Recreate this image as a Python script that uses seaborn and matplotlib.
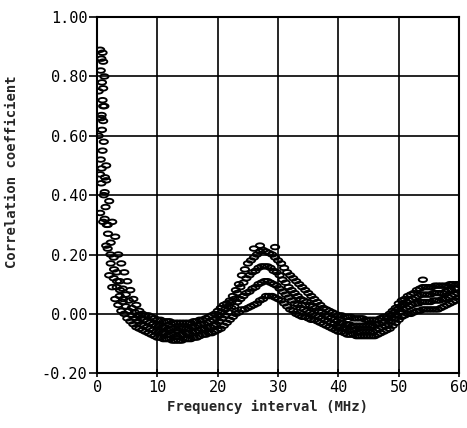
import numpy as np
import pandas as pd
import matplotlib
matplotlib.use("Agg")
import matplotlib.pyplot as plt
from matplotlib.path import Path
import seaborn as sns

sns.set_theme(style="ticks")
plt.rcParams['font.family'] = ['DejaVu Sans Mono', 'DejaVu Sans']

# frequency interval grids (MHz): outer rows every 0.5 MHz, inner rows staggered
freq = np.arange(0.5, 60.01, 0.5)
freq_mid = np.arange(0.25, 59.76, 0.5)

corr_lo = [0.47, 0.31, 0.23, 0.13, 0.09, 0.05, 0.03, 0.01, 0.00, -0.015,
           -0.025, -0.035, -0.045, -0.05, -0.055, -0.06, -0.065, -0.07, -0.075, -0.08,
           -0.08, -0.085, -0.085, -0.085, -0.09, -0.09, -0.09, -0.09, -0.085, -0.085,
           -0.085, -0.08, -0.08, -0.075, -0.07, -0.07, -0.065, -0.065, -0.06, -0.055,
           -0.05, -0.04, -0.03, -0.02, -0.01, 0.0, 0.005, 0.015, 0.015, 0.02,
           0.025, 0.03, 0.035, 0.045, 0.05, 0.06, 0.06, 0.06, 0.055, 0.05,
           0.045, 0.035, 0.025, 0.015, 0.01, 0.0, -0.005, -0.01, -0.01, -0.015,
           -0.02, -0.02, -0.025, -0.03, -0.035, -0.04, -0.045, -0.05, -0.055, -0.06,
           -0.06, -0.065, -0.07, -0.07, -0.07, -0.075, -0.075, -0.075, -0.075, -0.075,
           -0.075, -0.075, -0.07, -0.065, -0.06, -0.055, -0.05, -0.04, -0.03, -0.02,
           -0.01, -0.005, 0.0, 0.0, 0.005, 0.01, 0.01, 0.015, 0.015, 0.015,
           0.015, 0.015, 0.015, 0.02, 0.025, 0.03, 0.035, 0.04, 0.045, 0.055]

corr_m1 = [0.60, 0.49, 0.32, 0.22, 0.17, 0.12, 0.09, 0.06, 0.04, 0.025,
           0.01, -0.005, -0.015, -0.025, -0.035, -0.04, -0.045, -0.05, -0.055, -0.06,
           -0.06, -0.065, -0.065, -0.07, -0.07, -0.07, -0.075, -0.07, -0.07, -0.065,
           -0.065, -0.06, -0.06, -0.055, -0.05, -0.05, -0.045, -0.045, -0.04, -0.035,
           -0.025, -0.015, -0.005, 0.005, 0.02, 0.025, 0.04, 0.05, 0.06, 0.07,
           0.075, 0.085, 0.09, 0.10, 0.105, 0.11, 0.11, 0.105, 0.10, 0.095,
           0.085, 0.075, 0.065, 0.055, 0.045, 0.035, 0.03, 0.02, 0.015, 0.01,
           0.005, 0.0, -0.005, -0.01, -0.015, -0.02, -0.025, -0.03, -0.035, -0.045,
           -0.045, -0.05, -0.05, -0.055, -0.055, -0.055, -0.06, -0.06, -0.06, -0.06,
           -0.06, -0.06, -0.055, -0.05, -0.045, -0.04, -0.035, -0.025, -0.015, -0.005,
           0.005, 0.015, 0.02, 0.025, 0.03, 0.035, 0.035, 0.04, 0.04, 0.04,
           0.04, 0.045, 0.045, 0.045, 0.05, 0.05, 0.055, 0.06, 0.065, 0.07]

corr_m2 = [0.75, 0.67, 0.41, 0.30, 0.24, 0.19, 0.14, 0.11, 0.085, 0.065,
           0.045, 0.02, 0.005, -0.005, -0.015, -0.02, -0.025, -0.03, -0.035, -0.04,
           -0.04, -0.045, -0.045, -0.05, -0.05, -0.05, -0.055, -0.05, -0.05, -0.05,
           -0.05, -0.045, -0.045, -0.04, -0.035, -0.035, -0.03, -0.025, -0.02, -0.015,
           -0.005, 0.005, 0.015, 0.025, 0.04, 0.05, 0.07, 0.09, 0.105, 0.12,
           0.13, 0.14, 0.145, 0.155, 0.16, 0.16, 0.16, 0.155, 0.145, 0.14,
           0.13, 0.115, 0.105, 0.09, 0.08, 0.07, 0.06, 0.05, 0.045, 0.04,
           0.03, 0.025, 0.02, 0.01, 0.005, -0.005, -0.01, -0.015, -0.02, -0.025,
           -0.03, -0.03, -0.035, -0.035, -0.04, -0.04, -0.04, -0.04, -0.04, -0.04,
           -0.04, -0.04, -0.035, -0.035, -0.03, -0.025, -0.015, -0.005, 0.005, 0.015,
           0.025, 0.03, 0.04, 0.045, 0.05, 0.055, 0.06, 0.065, 0.065, 0.065,
           0.065, 0.07, 0.07, 0.07, 0.07, 0.075, 0.08, 0.08, 0.085, 0.085]

corr_hi = [0.89, 0.85, 0.50, 0.38, 0.31, 0.26, 0.20, 0.17, 0.14, 0.11,
           0.08, 0.05, 0.03, 0.01, 0.0, -0.005, -0.005, -0.01, -0.015, -0.02,
           -0.02, -0.025, -0.025, -0.025, -0.03, -0.03, -0.03, -0.03, -0.03, -0.03,
           -0.03, -0.025, -0.025, -0.02, -0.02, -0.015, -0.01, -0.005, 0.0, 0.01,
           0.02, 0.03, 0.035, 0.045, 0.06, 0.08, 0.10, 0.13, 0.15, 0.17,
           0.18, 0.19, 0.20, 0.21, 0.215, 0.21, 0.205, 0.20, 0.19, 0.18,
           0.17, 0.155, 0.14, 0.13, 0.12, 0.11, 0.10, 0.09, 0.08, 0.07,
           0.06, 0.05, 0.04, 0.03, 0.02, 0.015, 0.01, 0.005, 0.0, -0.005,
           -0.005, -0.01, -0.01, -0.01, -0.015, -0.015, -0.015, -0.015, -0.02, -0.02,
           -0.02, -0.02, -0.02, -0.015, -0.01, -0.01, 0.0, 0.01, 0.02, 0.035,
           0.045, 0.05, 0.06, 0.065, 0.07, 0.08, 0.085, 0.09, 0.09, 0.09,
           0.09, 0.095, 0.095, 0.095, 0.095, 0.095, 0.1, 0.1, 0.1, 0.1]

# extra points in the steep drop near zero and a few stray dots
extra_freq = [0.6, 0.7, 0.8, 0.9, 1.0, 1.1, 1.2, 1.3, 0.6, 0.8,
              1.0, 1.2, 0.5, 0.7, 0.9, 1.1, 1.4, 1.6, 1.8, 0.9,
              1.0, 0.7, 1.5, 2.2, 2.8, 3.3, 3.8, 4.3,
              26.0, 27.0, 29.5, 54.0]
extra_corr = [0.82, 0.86, 0.78, 0.72, 0.65, 0.58, 0.70, 0.46, 0.52, 0.62,
              0.76, 0.80, 0.34, 0.44, 0.55, 0.40, 0.36, 0.30, 0.27, 0.88,
              0.70, 0.66, 0.45, 0.20, 0.15, 0.11, 0.08, 0.05,
              0.22, 0.23, 0.225, 0.115]

x_ticks = [0, 10, 20, 30, 40, 50, 60]
y_ticks = [-0.2, 0.0, 0.2, 0.4, 0.6, 0.8, 1.0]

frames = [pd.DataFrame({'freq': freq, 'corr': corr_lo}),
          pd.DataFrame({'freq': freq_mid, 'corr': corr_m1}),
          pd.DataFrame({'freq': freq_mid, 'corr': corr_m2}),
          pd.DataFrame({'freq': freq, 'corr': corr_hi}),
          pd.DataFrame({'freq': extra_freq, 'corr': extra_corr})]
df = pd.concat(frames, ignore_index=True)

# flat open ellipse marker like the plotter's small "o"
t = np.linspace(0, 2 * np.pi, 25)
ellipse = Path(np.column_stack([np.cos(t), 0.55 * np.sin(t)]), closed=True)

fig = plt.figure(figsize=(4.67, 4.28), dpi=100)
ax = fig.add_axes([0.208, 0.128, 0.775, 0.832])

sns.scatterplot(data=df, x='freq', y='corr', ax=ax, marker=ellipse, s=36,
                facecolor='none', edgecolor='black', linewidth=1.35,
                legend=False)

ax.set_xlim(0, 60)
ax.set_ylim(-0.2, 1.0)
ax.set_xticks(x_ticks)
ax.set_yticks(y_ticks)
ax.set_yticklabels(['%.2f' % v for v in y_ticks])
ax.grid(True, color='black', linewidth=1.2)
for sp in ax.spines.values():
    sp.set_color('black')
    sp.set_linewidth(1.5)
ax.tick_params(axis='y', direction='out', length=6, width=1.2, pad=1,
               labelsize=11, colors='black')
ax.tick_params(axis='x', direction='inout', length=6, width=1.2, pad=2,
               labelsize=11, colors='black')

ax.set_xlabel('Frequency interval (MHz)', fontsize=10, fontweight='bold')
ax.set_ylabel('Correlation coefficient', fontsize=10, fontweight='bold')
ax.xaxis.set_label_coords(0.472, -0.075)
ax.yaxis.set_label_coords(-0.215, 0.567)

fig.savefig('out.png', dpi=100)
